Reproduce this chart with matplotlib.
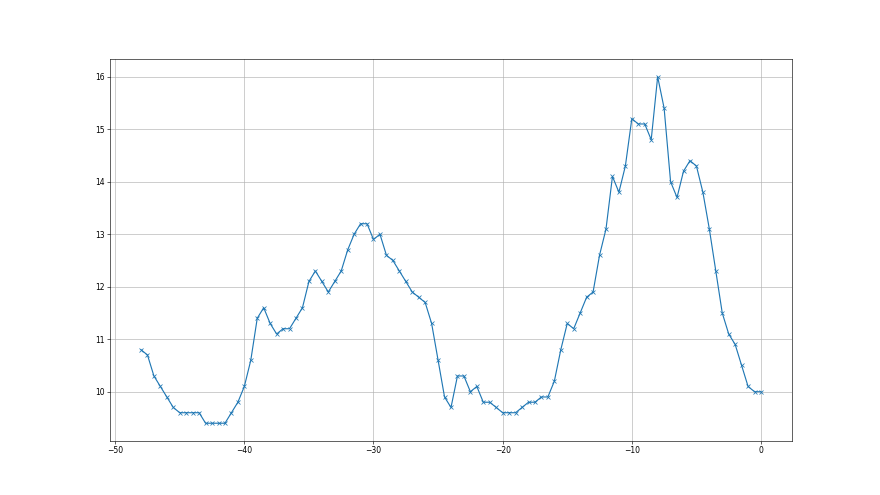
import numpy as np
import matplotlib
matplotlib.use('Agg')
import matplotlib.pyplot as plt

# x positions (step 0.5 from -48 to 0)
x_vals = np.arange(-48, 0.5, 0.5)

# values
y_vals = [10.8, 10.7, 10.3, 10.1, 9.9, 9.7, 9.6, 9.6, 9.6, 9.6,
          9.4, 9.4, 9.4, 9.4, 9.6, 9.8, 10.1, 10.6, 11.4, 11.6,
          11.3, 11.1, 11.2, 11.2, 11.4, 11.6, 12.1, 12.3, 12.1, 11.9,
          12.1, 12.3, 12.7, 13.0, 13.2, 13.2, 12.9, 13.0, 12.6, 12.5,
          12.3, 12.1, 11.9, 11.8, 11.7, 11.3, 10.6, 9.9, 9.7, 10.3,
          10.3, 10.0, 10.1, 9.8, 9.8, 9.7, 9.6, 9.6, 9.6, 9.7,
          9.8, 9.8, 9.9, 9.9, 10.2, 10.8, 11.3, 11.2, 11.5, 11.8,
          11.9, 12.6, 13.1, 14.1, 13.8, 14.3, 15.2, 15.1, 15.1, 14.8,
          16.0, 15.4, 14.0, 13.7, 14.2, 14.4, 14.3, 13.8, 13.1, 12.3,
          11.5, 11.1, 10.9, 10.5, 10.1, 10.0, 10.0]

fig = plt.figure(figsize=(16, 9), dpi=55)
ax = fig.add_subplot(111)
ax.plot(x_vals, y_vals, marker='x')
ax.grid(True)

plt.savefig('out.png', dpi=55, facecolor='w')
